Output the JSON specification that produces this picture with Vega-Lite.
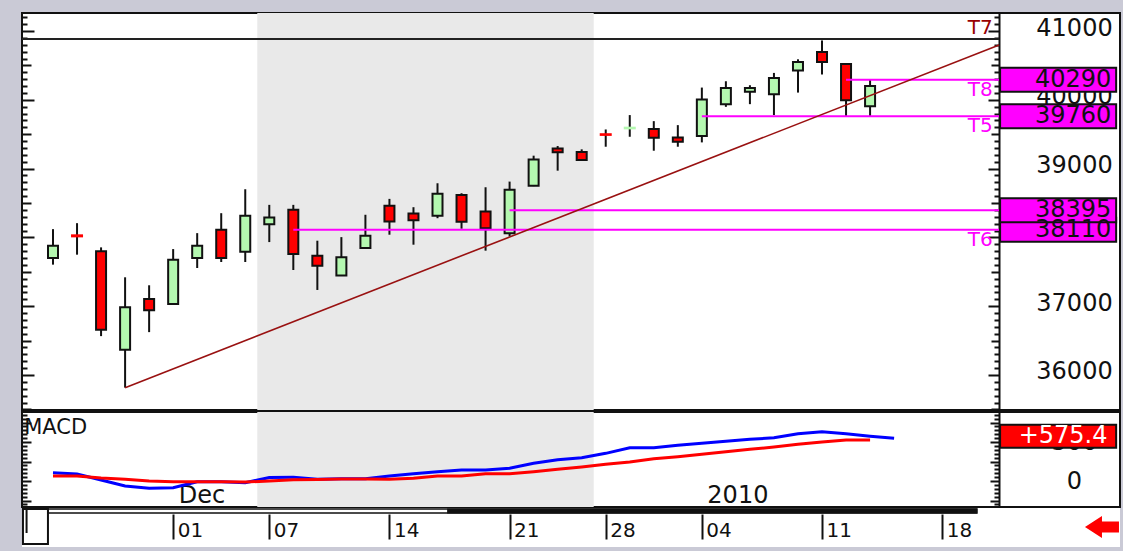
{
  "$schema": "https://vega.github.io/schema/vega-lite/v6.json",
  "background": "#cacad6",
  "padding": {"left": 20, "top": 12, "right": 4, "bottom": 5},
  "spacing": 0,
  "config": {
    "view": {"stroke": "#111111", "strokeWidth": 2, "fill": "#ffffff"},
    "axis": {"labelFont": "DejaVu Sans", "labelColor": "#111111", "grid": false},
    "text": {"font": "DejaVu Sans"}
  },
  "datasets": {
    "one": [{"k": 0}],
    "shade": [{"from": 8.5, "to": 22.5}],
    "candles": [
      {"i": 0, "d": "2009-11-24", "o": 37700, "h": 38120, "l": 37604, "c": 37880},
      {"i": 1, "d": "2009-11-25", "o": 38030, "h": 38207, "l": 37749, "c": 38015},
      {"i": 2, "d": "2009-11-26", "o": 37797, "h": 37855, "l": 36565, "c": 36656},
      {"i": 3, "d": "2009-11-27", "o": 36367, "h": 37420, "l": 35816, "c": 36985},
      {"i": 4, "d": "2009-11-30", "o": 37106, "h": 37304, "l": 36623, "c": 36942},
      {"i": 5, "d": "2009-12-01", "o": 37033, "h": 37830, "l": 37020, "c": 37676},
      {"i": 6, "d": "2009-12-02", "o": 37700, "h": 38062, "l": 37555, "c": 37880},
      {"i": 7, "d": "2009-12-03", "o": 38111, "h": 38352, "l": 37642, "c": 37700},
      {"i": 8, "d": "2009-12-04", "o": 37792, "h": 38700, "l": 37642, "c": 38314},
      {"i": 9, "d": "2009-12-07", "o": 38192, "h": 38473, "l": 37932, "c": 38289},
      {"i": 10, "d": "2009-12-08", "o": 38401, "h": 38473, "l": 37526, "c": 37758},
      {"i": 11, "d": "2009-12-09", "o": 37734, "h": 37952, "l": 37236, "c": 37589},
      {"i": 12, "d": "2009-12-10", "o": 37445, "h": 38004, "l": 37440, "c": 37710},
      {"i": 13, "d": "2009-12-11", "o": 37845, "h": 38329, "l": 37840, "c": 38024},
      {"i": 14, "d": "2009-12-14", "o": 38459, "h": 38560, "l": 38039, "c": 38231},
      {"i": 15, "d": "2009-12-15", "o": 38347, "h": 38439, "l": 37894, "c": 38250},
      {"i": 16, "d": "2009-12-16", "o": 38314, "h": 38787, "l": 38279, "c": 38633},
      {"i": 17, "d": "2009-12-17", "o": 38618, "h": 38642, "l": 38126, "c": 38227},
      {"i": 18, "d": "2009-12-18", "o": 38376, "h": 38729, "l": 37807, "c": 38134},
      {"i": 19, "d": "2009-12-21", "o": 38062, "h": 38811, "l": 38014, "c": 38691},
      {"i": 20, "d": "2009-12-22", "o": 38749, "h": 39188, "l": 38745, "c": 39134},
      {"i": 21, "d": "2009-12-23", "o": 39294, "h": 39328, "l": 38970, "c": 39236},
      {"i": 22, "d": "2009-12-24", "o": 39241, "h": 39280, "l": 39120, "c": 39125},
      {"i": 23, "d": "2009-12-28", "o": 39500, "h": 39569, "l": 39318, "c": 39490},
      {"i": 24, "d": "2009-12-29", "o": 39585, "h": 39778, "l": 39463, "c": 39595},
      {"i": 25, "d": "2009-12-30", "o": 39575, "h": 39690, "l": 39260, "c": 39449},
      {"i": 26, "d": "2009-12-31", "o": 39453, "h": 39632, "l": 39318, "c": 39391},
      {"i": 27, "d": "2010-01-04", "o": 39473, "h": 40178, "l": 39381, "c": 40004},
      {"i": 28, "d": "2010-01-05", "o": 39937, "h": 40270, "l": 39898, "c": 40173},
      {"i": 29, "d": "2010-01-06", "o": 40116, "h": 40212, "l": 39937, "c": 40173},
      {"i": 30, "d": "2010-01-07", "o": 40082, "h": 40391, "l": 39778, "c": 40318},
      {"i": 31, "d": "2010-01-08", "o": 40427, "h": 40589, "l": 40105, "c": 40550},
      {"i": 32, "d": "2010-01-11", "o": 40695, "h": 40863, "l": 40368, "c": 40550},
      {"i": 33, "d": "2010-01-12", "o": 40521, "h": 40530, "l": 39760, "c": 39995},
      {"i": 34, "d": "2010-01-13", "o": 39908, "h": 40290, "l": 39760, "c": 40202}
    ],
    "levels": [
      {"name": "T7", "v": 40884, "from": -5},
      {"name": "T6", "v": 38110, "from": 10},
      {"name": "", "v": 38395, "from": 19},
      {"name": "T5", "v": 39760, "from": 27},
      {"name": "T8", "v": 40290, "from": 33}
    ],
    "trend": [{"i": 3, "v": 35816}, {"i": 39.37, "v": 40796}],
    "macd": [
      {"i": 0, "m": 106, "s": 64}, {"i": 1, "m": 90, "s": 64}, {"i": 2, "m": 13, "s": 38},
      {"i": 3, "m": -64, "s": 22}, {"i": 4, "m": -94, "s": 0}, {"i": 5, "m": -86, "s": -9},
      {"i": 6, "m": -9, "s": -9}, {"i": 7, "m": -9, "s": -9}, {"i": 8, "m": -22, "s": -13},
      {"i": 9, "m": 45, "s": 0}, {"i": 10, "m": 50, "s": 15}, {"i": 11, "m": 22, "s": 20},
      {"i": 12, "m": 29, "s": 27}, {"i": 13, "m": 29, "s": 27}, {"i": 14, "m": 64, "s": 22},
      {"i": 15, "m": 94, "s": 35}, {"i": 16, "m": 119, "s": 64}, {"i": 17, "m": 141, "s": 64},
      {"i": 18, "m": 141, "s": 94}, {"i": 19, "m": 163, "s": 94}, {"i": 20, "m": 227, "s": 119},
      {"i": 21, "m": 273, "s": 150}, {"i": 22, "m": 299, "s": 179}, {"i": 23, "m": 355, "s": 214},
      {"i": 24, "m": 427, "s": 244}, {"i": 25, "m": 427, "s": 286}, {"i": 26, "m": 458, "s": 312},
      {"i": 27, "m": 483, "s": 342}, {"i": 28, "m": 509, "s": 376}, {"i": 29, "m": 535, "s": 406},
      {"i": 30, "m": 555, "s": 436}, {"i": 31, "m": 606, "s": 471}, {"i": 32, "m": 632, "s": 500},
      {"i": 33, "m": 606, "s": 526}, {"i": 34, "m": 575.4, "s": 526}, {"i": 35, "m": 547, "s": null}
    ],
    "last": [{"v": 575.4, "label": "+575.4"}],
    "panel": [{"label": "MACD"}]
  },
  "vconcat": [
    {
      "width": 1098,
      "height": 397,
      "resolve": {"axis": {"x": "independent", "y": "independent"}},
      "layer": [
        {
          "data": {"name": "shade"},
          "mark": {"type": "rect", "color": "#e9e9e9"},
          "encoding": {
            "x": {"field": "from", "type": "quantitative", "scale": {"domain": [-1.29, 44.4], "nice": false, "zero": false, "padding": 0}, "axis": null},
            "x2": {"field": "to"}
          }
        },
        {
          "data": {"name": "candles"},
          "mark": {"type": "rule", "color": "#111111", "strokeWidth": 2},
          "encoding": {
            "x": {"field": "i", "type": "quantitative", "scale": {"domain": [-1.29, 44.4], "nice": false, "zero": false, "padding": 0}, "axis": null},
            "y": {"field": "l", "type": "quantitative", "scale": {"domain": [35491, 41262], "nice": false, "zero": false, "padding": 0},
              "axis": {"orient": "right", "offset": -121, "values": [36000, 37000, 38000, 39000, 40000, 41000], "ticks": false, "domain": false, "grid": false, "labelAlign": "center", "labelBaseline": "middle", "labelPadding": 75, "labelFontSize": 24, "labelOffset": -3, "format": "d", "title": null, "labelOverlap": false, "labelBound": false, "labelFlush": false}},
            "y2": {"field": "h"}
          }
        },
        {
          "data": {"name": "candles"},
          "mark": {"type": "bar", "size": 10, "strokeWidth": 2},
          "encoding": {
            "x": {"field": "i", "type": "quantitative", "scale": {"domain": [-1.29, 44.4], "nice": false, "zero": false, "padding": 0}, "axis": null},
            "y": {"field": "o", "type": "quantitative", "scale": {"domain": [35491, 41262], "nice": false, "zero": false, "padding": 0},
              "axis": {"orient": "right", "offset": -121, "values": [35500,35600,35700,35800,35900,36000,36100,36200,36300,36400,36500,36600,36700,36800,36900,37000,37100,37200,37300,37400,37500,37600,37700,37800,37900,38000,38100,38200,38300,38400,38500,38600,38700,38800,38900,39000,39100,39200,39300,39400,39500,39600,39700,39800,39900,40000,40100,40200,40300,40400,40500,40600,40700,40800,40900,41000,41100,41200], "labels": false, "domain": true, "domainColor": "#111111", "domainWidth": 2, "grid": false, "ticks": true, "tickColor": "#111111", "tickWidth": 2, "tickSize": {"condition": [{"test": "datum.value % 1000 === 0", "value": -11}, {"test": "datum.value % 500 === 0", "value": -8}], "value": -5}, "title": null}},
            "y2": {"field": "c"},
            "fill": {"condition": {"test": "datum.c < datum.o", "value": "#ff0000"}, "value": "#b4f8b0"},
            "stroke": {"condition": [{"test": "abs(datum.o - datum.c) < 30 && datum.c < datum.o", "value": "#ff0000"}, {"test": "abs(datum.o - datum.c) < 30", "value": "#b4f8b0"}], "value": "#111111"}
          }
        },
        {
          "data": {"name": "levels"},
          "mark": {"type": "rule", "strokeWidth": 2, "clip": true},
          "encoding": {
            "x": {"field": "from", "type": "quantitative", "scale": {"domain": [-1.29, 44.4], "nice": false, "zero": false, "padding": 0}, "axis": null},
            "x2": {"datum": 39.37},
            "y": {"field": "v", "type": "quantitative", "scale": {"domain": [35491, 41262], "nice": false, "zero": false, "padding": 0},
              "axis": {"orient": "left", "offset": 0, "values": [35500,35600,35700,35800,35900,36000,36100,36200,36300,36400,36500,36600,36700,36800,36900,37000,37100,37200,37300,37400,37500,37600,37700,37800,37900,38000,38100,38200,38300,38400,38500,38600,38700,38800,38900,39000,39100,39200,39300,39400,39500,39600,39700,39800,39900,40000,40100,40200,40300,40400,40500,40600,40700,40800,40900,41000,41100,41200], "labels": false, "domain": false, "grid": false, "ticks": true, "tickColor": "#111111", "tickWidth": 2, "tickSize": {"condition": [{"test": "datum.value % 1000 === 0", "value": -12}, {"test": "datum.value % 500 === 0", "value": -9}], "value": -5}, "title": null}},
            "color": {"condition": {"test": "datum.name === 'T7'", "value": "#222222"}, "value": "#ff00ff"}
          }
        },
        {
          "data": {"name": "trend"},
          "mark": {"type": "line", "color": "#991111", "strokeWidth": 1.6},
          "encoding": {
            "x": {"field": "i", "type": "quantitative", "scale": {"domain": [-1.29, 44.4], "nice": false, "zero": false, "padding": 0}, "axis": null},
            "y": {"field": "v", "type": "quantitative", "scale": {"domain": [35491, 41262], "nice": false, "zero": false, "padding": 0}, "axis": null}
          }
        },
        {
          "data": {"name": "levels"},
          "transform": [{"filter": "datum.name !== 'T7'"}],
          "mark": {"type": "bar", "size": 24, "fill": "#ff00ff", "stroke": "#111111", "strokeWidth": 2},
          "encoding": {
            "x": {"datum": 39.41, "type": "quantitative", "scale": {"domain": [-1.29, 44.4], "nice": false, "zero": false, "padding": 0}, "axis": null},
            "x2": {"datum": 44.24},
            "y": {"field": "v", "type": "quantitative", "scale": {"domain": [35491, 41262], "nice": false, "zero": false, "padding": 0}, "axis": null}
          }
        },
        {
          "data": {"name": "levels"},
          "transform": [{"filter": "datum.name !== 'T7'"}],
          "mark": {"type": "text", "align": "center", "baseline": "middle", "fontSize": 24, "color": "#111111", "font": "DejaVu Sans"},
          "encoding": {
            "x": {"datum": 42.45, "type": "quantitative", "scale": {"domain": [-1.29, 44.4], "nice": false, "zero": false, "padding": 0}, "axis": null},
            "y": {"field": "v", "type": "quantitative", "scale": {"domain": [35491, 41262], "nice": false, "zero": false, "padding": 0}, "axis": null},
            "text": {"field": "v", "type": "quantitative", "format": "d"}
          }
        },
        {
          "data": {"name": "levels"},
          "transform": [{"filter": "datum.name === 'T7'"}],
          "mark": {"type": "text", "align": "right", "baseline": "bottom", "dy": -1, "fontSize": 20, "color": "#990000", "font": "DejaVu Sans"},
          "encoding": {
            "x": {"datum": 39.1, "type": "quantitative", "scale": {"domain": [-1.29, 44.4], "nice": false, "zero": false, "padding": 0}, "axis": null},
            "y": {"field": "v", "type": "quantitative", "scale": {"domain": [35491, 41262], "nice": false, "zero": false, "padding": 0}, "axis": null},
            "text": {"field": "name"}
          }
        },
        {
          "data": {"name": "levels"},
          "transform": [{"filter": "datum.name !== 'T7' && datum.name !== ''"}],
          "mark": {"type": "text", "align": "right", "baseline": "top", "dy": 0, "fontSize": 20, "color": "#ff00ff", "font": "DejaVu Sans"},
          "encoding": {
            "x": {"datum": 39.1, "type": "quantitative", "scale": {"domain": [-1.29, 44.4], "nice": false, "zero": false, "padding": 0}, "axis": null},
            "y": {"field": "v", "type": "quantitative", "scale": {"domain": [35491, 41262], "nice": false, "zero": false, "padding": 0}, "axis": null},
            "text": {"field": "name"}
          }
        }
      ]
    },
    {
      "width": 1098,
      "height": 95,
      "resolve": {"axis": {"x": "independent", "y": "independent"}},
      "layer": [
        {
          "data": {"name": "shade"},
          "mark": {"type": "rect", "color": "#e9e9e9"},
          "encoding": {
            "x": {"field": "from", "type": "quantitative", "scale": {"domain": [-1.29, 44.4], "nice": false, "zero": false, "padding": 0}, "axis": null},
            "x2": {"field": "to"}
          }
        },
        {
          "data": {"name": "macd"},
          "mark": {"type": "line", "color": "#0000ff", "strokeWidth": 3},
          "encoding": {
            "x": {"field": "i", "type": "quantitative", "scale": {"domain": [-1.29, 44.4], "nice": false, "zero": false, "padding": 0}, "axis": null},
            "y": {"field": "m", "type": "quantitative", "scale": {"domain": [-333, 885], "nice": false, "zero": false, "padding": 0},
              "axis": {"orient": "right", "offset": -121, "values": [0, 500], "ticks": false, "domain": false, "grid": false, "labelAlign": "center", "labelBaseline": "middle", "labelPadding": 75, "labelFontSize": 24, "format": "d", "title": null, "labelOverlap": false, "labelBound": false, "labelFlush": false}}
          }
        },
        {
          "data": {"name": "macd"},
          "mark": {"type": "line", "color": "#ff0000", "strokeWidth": 3},
          "encoding": {
            "x": {"field": "i", "type": "quantitative", "scale": {"domain": [-1.29, 44.4], "nice": false, "zero": false, "padding": 0},
              "axis": {"orient": "bottom", "offset": -5, "values": [5, 27], "labelExpr": "datum.value == 5 ? 'Dec' : '2010'", "ticks": false, "domain": false, "grid": false, "labelAlign": "left", "labelBaseline": "alphabetic", "labelPadding": 0, "labelOffset": 5, "labelFontSize": 24, "labelFlush": false, "labelOverlap": false, "labelBound": false, "title": null}},
            "y": {"field": "s", "type": "quantitative", "scale": {"domain": [-333, 885], "nice": false, "zero": false, "padding": 0},
              "axis": {"orient": "right", "offset": -121, "values": [-300,-250,-200,-150,-100,-50,0,50,100,150,200,250,300,350,400,450,500,550,600,650,700,750,800,850], "labels": false, "domain": true, "domainColor": "#111111", "domainWidth": 2, "grid": false, "ticks": true, "tickColor": "#111111", "tickWidth": 2, "tickSize": {"condition": {"test": "datum.value % 250 === 0", "value": -9}, "value": -5}, "title": null}}
          }
        },
        {
          "data": {"name": "panel"},
          "mark": {"type": "text", "align": "left", "baseline": "middle", "fontSize": 21, "color": "#111111", "font": "DejaVu Sans"},
          "encoding": {
            "x": {"datum": -1.2, "type": "quantitative", "scale": {"domain": [-1.29, 44.4], "nice": false, "zero": false, "padding": 0}, "axis": null},
            "y": {"datum": 685, "type": "quantitative", "scale": {"domain": [-333, 885], "nice": false, "zero": false, "padding": 0}, "axis": null},
            "text": {"field": "label"}
          }
        },
        {
          "data": {"name": "last"},
          "mark": {"type": "bar", "size": 23, "fill": "#ff0000", "stroke": "#111111", "strokeWidth": 2},
          "encoding": {
            "x": {"datum": 39.41, "type": "quantitative", "scale": {"domain": [-1.29, 44.4], "nice": false, "zero": false, "padding": 0}, "axis": null},
            "x2": {"datum": 44.24},
            "y": {"field": "v", "type": "quantitative", "scale": {"domain": [-333, 885], "nice": false, "zero": false, "padding": 0},
              "axis": {"orient": "left", "offset": 0, "values": [-300,-250,-200,-150,-100,-50,0,50,100,150,200,250,300,350,400,450,500,550,600,650,700,750,800,850], "labels": false, "domain": false, "grid": false, "ticks": true, "tickColor": "#111111", "tickWidth": 2, "tickSize": {"condition": {"test": "datum.value % 250 === 0", "value": -9}, "value": -5}, "title": null}}
          }
        },
        {
          "data": {"name": "last"},
          "mark": {"type": "text", "align": "center", "baseline": "middle", "fontSize": 24, "color": "#ffffff", "font": "DejaVu Sans"},
          "encoding": {
            "x": {"datum": 42.03, "type": "quantitative", "scale": {"domain": [-1.29, 44.4], "nice": false, "zero": false, "padding": 0}, "axis": null},
            "y": {"field": "v", "type": "quantitative", "scale": {"domain": [-333, 885], "nice": false, "zero": false, "padding": 0}, "axis": null},
            "text": {"field": "label"}
          }
        }
      ]
    },
    {
      "width": 1098,
      "height": 39,
      "view": {"stroke": null, "fill": "#ffffff"},
      "resolve": {"axis": {"x": "independent", "y": "independent"}},
      "layer": [
        {
          "data": {"name": "one"},
          "mark": {"type": "rect", "fill": "#ffffff", "stroke": "#111111", "strokeWidth": 1.5},
          "encoding": {
            "x": {"datum": -0.21, "type": "quantitative", "scale": {"domain": [-1.29, 44.4], "nice": false, "zero": false, "padding": 0},
              "axis": {"orient": "bottom", "offset": -33, "values": [5, 9, 14, 19, 23, 27, 32, 37], "labelExpr": "datum.value == 5 ? '01' : datum.value == 9 ? '07' : datum.value == 14 ? '14' : datum.value == 19 ? '21' : datum.value == 23 ? '28' : datum.value == 27 ? '04' : datum.value == 32 ? '11' : '18'", "domain": false, "grid": false, "ticks": true, "tickSize": 25, "tickWidth": 2, "tickColor": "#111111", "labelAlign": "left", "labelBaseline": "alphabetic", "labelPadding": -3, "labelOffset": 4, "labelFontSize": 20, "labelFlush": false, "labelOverlap": false, "labelBound": false, "title": null}},
            "x2": {"datum": 38.45},
            "y": {"datum": 1, "type": "quantitative", "scale": {"domain": [0, 39], "nice": false, "zero": false, "padding": 0, "reverse": true}, "axis": null},
            "y2": {"datum": 5}
          }
        },
        {
          "data": {"name": "one"},
          "mark": {"type": "rect", "fill": "#111111"},
          "encoding": {
            "x": {"datum": 16.4, "type": "quantitative", "scale": {"domain": [-1.29, 44.4], "nice": false, "zero": false, "padding": 0}, "axis": null},
            "x2": {"datum": 38.45},
            "y": {"datum": 0.5, "type": "quantitative", "scale": {"domain": [0, 39], "nice": false, "zero": false, "padding": 0, "reverse": true}, "axis": null},
            "y2": {"datum": 5.5}
          }
        },
        {
          "data": {"name": "one"},
          "mark": {"type": "rect", "fill": "#ffffff", "stroke": "#111111", "strokeWidth": 2},
          "encoding": {
            "x": {"datum": -1.25, "type": "quantitative", "scale": {"domain": [-1.29, 44.4], "nice": false, "zero": false, "padding": 0}, "axis": null},
            "x2": {"datum": -0.21},
            "y": {"datum": 1, "type": "quantitative", "scale": {"domain": [0, 39], "nice": false, "zero": false, "padding": 0, "reverse": true}, "axis": null},
            "y2": {"datum": 36}
          }
        },
        {
          "data": {"name": "one"},
          "mark": {"type": "rule", "color": "#111111", "strokeWidth": 2},
          "encoding": {
            "x": {"datum": -1.1, "type": "quantitative", "scale": {"domain": [-1.29, 44.4], "nice": false, "zero": false, "padding": 0}, "axis": null},
            "y": {"datum": 2, "type": "quantitative", "scale": {"domain": [0, 39], "nice": false, "zero": false, "padding": 0, "reverse": true}, "axis": null},
            "y2": {"datum": 25}
          }
        },
        {
          "data": {"name": "one"},
          "mark": {"type": "point", "shape": "M-1,0L0,-0.65L0,-0.33L1,-0.33L1,0.33L0,0.33L0,0.65Z", "size": 1156, "filled": true, "color": "#ff0000", "opacity": 1},
          "encoding": {
            "x": {"datum": 43.65, "type": "quantitative", "scale": {"domain": [-1.29, 44.4], "nice": false, "zero": false, "padding": 0}, "axis": null},
            "y": {"datum": 19, "type": "quantitative", "scale": {"domain": [0, 39], "nice": false, "zero": false, "padding": 0, "reverse": true}, "axis": null}
          }
        }
      ]
    }
  ]
}
